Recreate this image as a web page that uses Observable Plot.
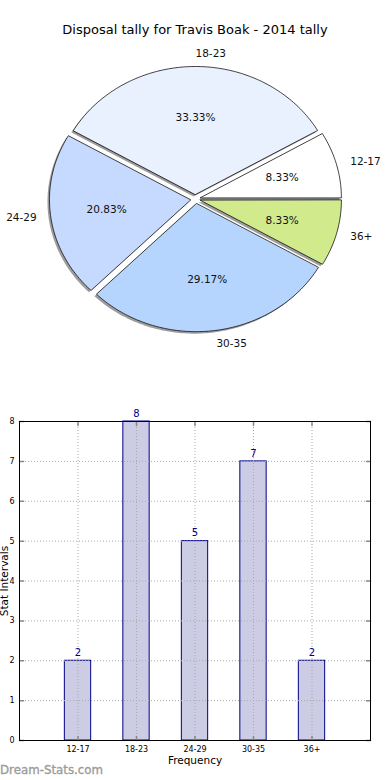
<!DOCTYPE html>
<html><head><meta charset="utf-8">
<script src="https://cdn.jsdelivr.net/npm/d3@7"></script>
<script src="https://cdn.jsdelivr.net/npm/@observablehq/plot@0.6"></script>
<style>
body{margin:0;background:#fff;font-family:"DejaVu Sans",sans-serif;}
#wrap{position:relative;width:390px;height:780px;overflow:hidden;background:#fff;}
#title{position:absolute;top:22px;left:0;width:390px;text-align:center;font-size:13px;line-height:16px;color:#000;}
#pie{position:absolute;top:44px;left:0;}
#bar{position:absolute;top:384px;left:0;}
#wm{position:absolute;top:762px;left:0;font-size:11.8px;line-height:16px;font-weight:normal;color:#9c9c9c;-webkit-text-stroke:0.35px #9c9c9c;}
</style></head><body>
<div id="wrap">
<div id="title">Disposal tally for Travis Boak - 2014 tally</div>
<div id="pie"></div>
<div id="bar"></div>
<div id="wm">Dream-Stats.com</div>
</div>
<script>
const categories = ["12-17","18-23","24-29","30-35","36+"];
const counts = [2,8,5,7,2];
const sliceColors = ["#FFFFFF","#EAF1FE","#C6D9FF","#B5D5FF","#D0EA8C"];
const yTicks = [0,1,2,3,4,5,6,7,8];

const FONT = "DejaVu Sans";
const total = d3.sum(counts);
const explode = 0.036;
const rad = Math.PI/180;

// build pie wedges in data space (unit radius)
let acc = 0;
const slices = counts.map((v,i)=>{
  const sweep = v/total*360;
  const start = acc; acc += sweep; const end = acc;
  const mid = (start+end)/2;
  const ox = explode*Math.cos(mid*rad), oy = explode*Math.sin(mid*rad);
  const pts = [{x:ox,y:oy}];
  const n = Math.max(2, Math.ceil(sweep));
  for (let k=0;k<=n;k++){
    const a = (start + sweep*k/n)*rad;
    pts.push({x:ox+Math.cos(a), y:oy+Math.sin(a)});
  }
  return {cat:categories[i], v, mid, ox, oy, pts, color:sliceColors[i],
          pct:(v/total*100).toFixed(2)+"%"};
});

const pieMarks = [];
for (const s of slices) pieMarks.push(Plot.line(s.pts,{x:"x",y:"y",curve:"linear-closed",fill:"rgb(60,60,60)",fillOpacity:0.5,stroke:"none",dx:-2,dy:2}));
for (const s of slices) pieMarks.push(Plot.line(s.pts,{x:"x",y:"y",curve:"linear-closed",fill:s.color,stroke:"#111",strokeWidth:0.8}));
pieMarks.push(Plot.text(slices,{x:d=>d.ox+0.6*Math.cos(d.mid*rad),y:d=>d.oy+0.6*Math.sin(d.mid*rad),text:"pct",fontSize:10.5,fill:"#111"}));
pieMarks.push(Plot.text(slices.filter(d=>Math.cos(d.mid*rad)>=0),{x:d=>d.ox+1.1*Math.cos(d.mid*rad),y:d=>d.oy+1.1*Math.sin(d.mid*rad),text:"cat",textAnchor:"start",fontSize:10.5,fill:"#111"}));
pieMarks.push(Plot.text(slices.filter(d=>Math.cos(d.mid*rad)<0),{x:d=>d.ox+1.1*Math.cos(d.mid*rad),y:d=>d.oy+1.1*Math.sin(d.mid*rad),text:"cat",textAnchor:"end",fontSize:10.5,fill:"#111"}));

const pie = Plot.plot({
  width:390, height:340, margin:0,
  style:{fontFamily:FONT, background:"transparent"},
  x:{domain:[-195/141, 195/141], axis:null},
  y:{domain:[-(340-154.6)/128, 154.6/128], axis:null},
  marks: pieMarks
});
document.getElementById("pie").appendChild(pie);

const bars = counts.map((v,i)=>({i, cat:categories[i], v}));
const tickShape = {draw(ctx, l){ ctx.moveTo(0,0); ctx.lineTo(0,-l); }};
const xIdx = d3.range(categories.length);

const bar = Plot.plot({
  width:390, height:382, marginTop:37, marginBottom:26, marginLeft:19, marginRight:20,
  style:{fontFamily:FONT, fontSize:"10px", background:"transparent"},
  x:{domain:[-1,5], axis:null},
  y:{domain:[0,8], axis:null},
  marks:[
    Plot.rect(bars,{x1:d=>d.i-0.225, x2:d=>d.i+0.225, y1:0, y2:"v", fill:"#CCCCE5", stroke:"#000088", strokeWidth:1}),
    Plot.gridY(yTicks,{stroke:"#aaaaaa", strokeOpacity:1, strokeDasharray:"1,2"}),
    Plot.gridX(xIdx,{stroke:"#aaaaaa", strokeOpacity:1, strokeDasharray:"1,2"}),
    Plot.vector(yTicks,{x:-1, y:d=>d, length:4, rotate:90, anchor:"start", shape:tickShape, stroke:"#888"}),
    Plot.vector(yTicks,{x:5, y:d=>d, length:4, rotate:-90, anchor:"start", shape:tickShape, stroke:"#888"}),
    Plot.vector(xIdx,{x:d=>d, y:0, length:4, rotate:0, anchor:"start", shape:tickShape, stroke:"#888"}),
    Plot.vector(xIdx,{x:d=>d, y:8, length:4, rotate:180, anchor:"start", shape:tickShape, stroke:"#888"}),
    Plot.frame({stroke:"#000", strokeWidth:1}),
    Plot.axisY(yTicks,{anchor:"left", tickSize:0, tickPadding:5, fontSize:8, label:null, tickFormat:d=>String(d)}),
    Plot.axisX(xIdx,{anchor:"bottom", tickSize:0, tickPadding:6, fontSize:8, label:null, tickFormat:i=>categories[i]}),
    Plot.text(bars,{x:"i", y:"v", text:d=>String(d.v), dy:-8, fill:"#000088", fontSize:10}),
    Plot.text(["Stat Intervals"],{frameAnchor:"left", textAnchor:"middle", lineAnchor:"middle", rotate:-90, dx:-14.5, fontSize:10.5, fill:"#000"}),
    Plot.text(["Frequency"],{frameAnchor:"bottom", textAnchor:"middle", lineAnchor:"middle", dy:20, fontSize:10.5, fill:"#000"})
  ]
});
document.getElementById("bar").appendChild(bar);
</script>
</body></html>
